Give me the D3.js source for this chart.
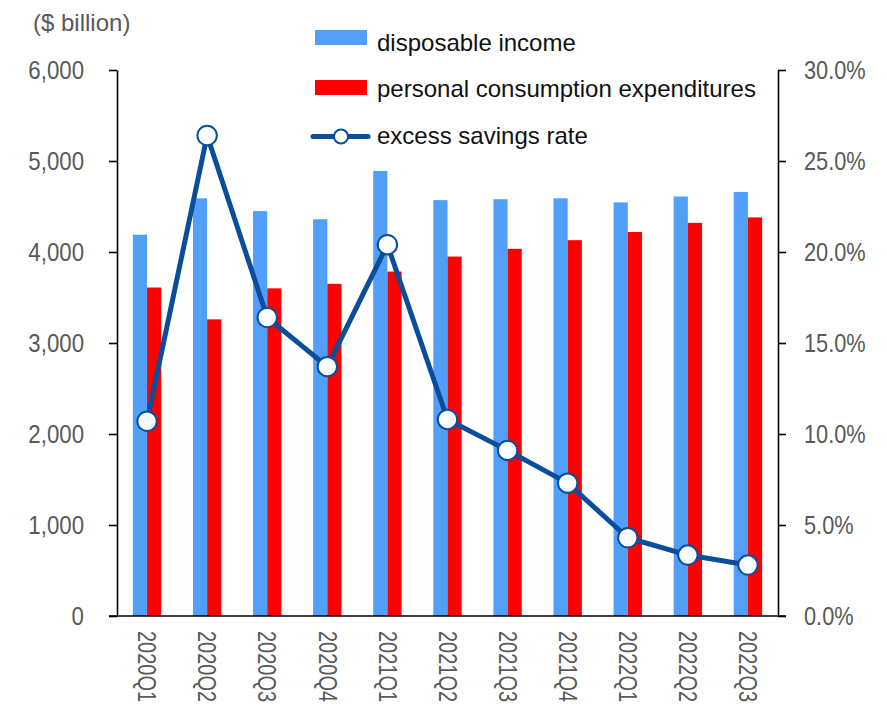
<!DOCTYPE html>
<html>
<head>
<meta charset="utf-8">
<script src="https://cdn.jsdelivr.net/npm/d3@7"></script>
<style>
  body { margin: 0; background: #fff; }
  svg { display: block; }
  .tick-label { font-family: "Liberation Sans", Arial, sans-serif; fill: #595959; }
</style>
</head>
<body>
<svg id="chart" width="887" height="717"></svg>
<script>
// data
const categories = ["2020Q1", "2020Q2", "2020Q3", "2020Q4", "2021Q1", "2021Q2",
  "2021Q3", "2021Q4", "2022Q1", "2022Q2", "2022Q3"];
const disposableIncome = [4190, 4590, 4450, 4360, 4890, 4570, 4580, 4590, 4545, 4610, 4660];
const consumption = [3610, 3260, 3600, 3650, 3785, 3950, 4035, 4130, 4220, 4320, 4380];
const savingsRate = [10.7, 26.4, 16.4, 13.7, 20.4, 10.8, 9.1, 7.3, 4.3, 3.35, 2.8];
const leftTicks = [0, 1000, 2000, 3000, 4000, 5000, 6000];
const rightTicks = [0, 5, 10, 15, 20, 25, 30];

const blue = "#529ffa";
const red = "#ff0000";
const navy = "#0a4e9b";

const svg = d3.select("#chart");

const plot = { left: 117, right: 778, top: 70, bottom: 616 };

const x = d3.scaleBand()
  .domain(categories)
  .range([plot.left, plot.right])
  .padding(0);

const yL = d3.scaleLinear().domain([0, 6000]).range([plot.bottom, plot.top]);
const yR = d3.scaleLinear().domain([0, 30]).range([plot.bottom, plot.top]);

const barW = x.bandwidth() * 0.236;

// squeeze text a bit, the tick labels in the original are condensed
function condense(sel, k) {
  sel.each(function() {
    const len = this.getComputedTextLength();
    d3.select(this)
      .attr("textLength", len * k)
      .attr("lengthAdjust", "spacingAndGlyphs");
  });
}

//BARS
const rows = categories.map((c, i) => ({
  cat: c,
  income: disposableIncome[i],
  pce: consumption[i],
  rate: savingsRate[i]
}));

svg.append("g")
  .selectAll("rect")
  .data(rows)
  .enter()
  .append("rect")
  .attr("x", d => x(d.cat) + x.bandwidth() / 2 - barW)
  .attr("y", d => yL(d.income))
  .attr("width", barW)
  .attr("height", d => yL(0) - yL(d.income))
  .attr("fill", blue);

svg.append("g")
  .selectAll("rect")
  .data(rows)
  .enter()
  .append("rect")
  .attr("x", d => x(d.cat) + x.bandwidth() / 2)
  .attr("y", d => yL(d.pce))
  .attr("width", barW)
  .attr("height", d => yL(0) - yL(d.pce))
  .attr("fill", red);

//AXES
const leftAxis = d3.axisLeft(yL)
  .tickValues(leftTicks)
  .tickSize(8)
  .tickSizeOuter(0)
  .tickPadding(25)
  .tickFormat(d3.format(","));

const gl = svg.append("g")
  .attr("transform", `translate(${plot.left},0)`)
  .call(leftAxis);
gl.selectAll("text").attr("class", "tick-label").attr("font-size", 25).call(condense, 0.89);

const rightAxis = d3.axisRight(yR)
  .tickValues(rightTicks)
  .tickSize(8)
  .tickSizeOuter(0)
  .tickPadding(18)
  .tickFormat(d => d.toFixed(1) + "%");

const gr = svg.append("g")
  .attr("transform", `translate(${plot.right},0)`)
  .call(rightAxis);
gr.selectAll("text").attr("class", "tick-label").attr("font-size", 25).call(condense, 0.87);

svg.selectAll(".domain, .tick line").attr("stroke", "#000").attr("stroke-width", 1.6);

// category axis
svg.append("line")
  .attr("x1", plot.left - 8)
  .attr("x2", plot.right + 8)
  .attr("y1", yL(0))
  .attr("y2", yL(0))
  .attr("stroke", "#000")
  .attr("stroke-width", 1.6);

svg.append("g")
  .selectAll("text")
  .data(categories)
  .enter()
  .append("text")
  .attr("class", "tick-label")
  .attr("font-size", 25)
  .attr("transform", d => `translate(${x(d) + x.bandwidth() / 2},${yL(0) + 15}) rotate(90)`)
  .attr("dy", "0.35em")
  .attr("text-anchor", "start")
  .text(d => d)
  .call(condense, 0.8);

svg.append("text")
  .attr("x", 33)
  .attr("y", 31)
  .attr("font-family", "Liberation Sans, Arial, sans-serif")
  .attr("font-size", 24)
  .attr("fill", "#595959")
  .text("($ billion)");

//LINE
const line = d3.line()
  .x(d => x(d.cat) + x.bandwidth() / 2)
  .y(d => yR(d.rate));

svg.append("path")
  .datum(rows)
  .attr("d", line)
  .attr("fill", "none")
  .attr("stroke", navy)
  .attr("stroke-width", 5)
  .attr("stroke-linejoin", "round");

svg.append("g")
  .selectAll("circle")
  .data(rows)
  .enter()
  .append("circle")
  .attr("cx", d => x(d.cat) + x.bandwidth() / 2)
  .attr("cy", d => yR(d.rate))
  .attr("r", 9.7)
  .attr("fill", "#fff")
  .attr("stroke", navy)
  .attr("stroke-width", 2);

//LEGEND
const legend = svg.append("g").attr("font-family", "Liberation Sans, Arial, sans-serif")
  .attr("font-size", 24).attr("fill", "#111");

legend.append("rect").attr("x", 315).attr("y", 30).attr("width", 52).attr("height", 15).attr("fill", blue);
legend.append("text").attr("x", 377).attr("y", 50.5).text("disposable income");

legend.append("rect").attr("x", 315).attr("y", 80).attr("width", 52).attr("height", 15).attr("fill", red);
legend.append("text").attr("x", 377).attr("y", 97).text("personal consumption expenditures");

legend.append("line").attr("x1", 313).attr("x2", 368).attr("y1", 136.5).attr("y2", 136.5)
  .attr("stroke", navy).attr("stroke-width", 5).attr("stroke-linecap", "round");
legend.append("circle").attr("cx", 341).attr("cy", 136.5).attr("r", 7)
  .attr("fill", "#fff").attr("stroke", navy).attr("stroke-width", 2);
legend.append("text").attr("x", 377).attr("y", 143.5).text("excess savings rate");
</script>
</body>
</html>
